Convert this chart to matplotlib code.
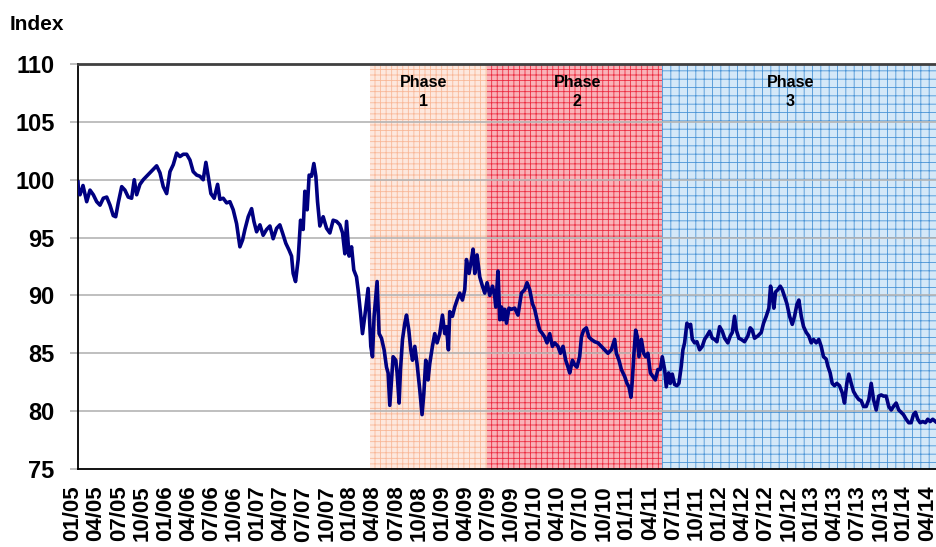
import matplotlib
matplotlib.use("Agg")
import matplotlib.pyplot as plt
from matplotlib.transforms import ScaledTranslation

# months elapsed since 01/2005 and index level
months = [0.0, 0.06, 0.26, 0.65, 1.13, 1.56, 1.99, 2.43, 2.86, 3.29, 3.73, 4.16, 4.58, 4.90, 5.23, 5.68,
          6.10, 6.53, 6.97, 7.31, 7.62, 8.05, 8.48, 8.92, 9.35, 9.78, 10.22, 10.65, 11.08, 11.52, 11.95,
          12.38, 12.82, 13.25, 13.68, 14.12, 14.55, 14.97, 15.42, 15.84, 16.27, 16.62, 16.92, 17.27, 17.70,
          18.14, 18.44, 18.87, 19.31, 19.74, 20.17, 20.61, 21.04, 21.39, 21.69, 22.12, 22.56, 22.86, 23.21,
          23.64, 24.06, 24.51, 24.94, 25.36, 25.81, 26.23, 26.58, 27.01, 27.44, 27.75, 27.96, 28.27, 28.61,
          28.92, 29.26, 29.48, 29.78, 30.04, 30.35, 30.65, 30.91, 31.13, 31.43, 31.86, 32.30, 32.73, 33.16,
          33.60, 34.03, 34.38, 34.68, 34.90, 35.23, 35.55, 35.84, 36.19, 36.40, 36.71, 36.97, 37.27, 37.70,
          38.05, 38.27, 38.48, 38.87, 39.13, 39.44, 39.78, 40.09, 40.30, 40.52, 40.74, 40.95, 41.30, 41.47,
          41.73, 41.91, 42.17, 42.47, 42.69, 42.99, 43.25, 43.47, 43.77, 44.06, 44.42, 44.71, 44.94, 45.19,
          45.49, 45.71, 46.06, 46.36, 46.66, 47.01, 47.36, 47.66, 47.88, 48.14, 48.31, 48.66, 48.96, 49.26,
          49.61, 49.96, 50.26, 50.48, 50.82, 51.13, 51.34, 51.56, 51.86, 52.21, 52.56, 52.86, 53.16, 53.51,
          53.86, 54.16, 54.29, 54.58, 54.81, 55.03, 55.23, 55.45, 55.68, 56.01, 56.32, 56.75, 57.18, 57.62,
          58.05, 58.35, 58.70, 59.05, 59.35, 59.65, 60.00, 60.35, 60.65, 60.95, 61.30, 61.65, 61.95, 62.38,
          62.69, 63.03, 63.38, 63.68, 63.90, 64.25, 64.55, 64.84, 65.19, 65.42, 65.71, 66.06, 66.40, 66.71,
          67.14, 67.57, 68.01, 68.44, 68.87, 69.31, 69.74, 69.96, 70.30, 70.61, 71.04, 71.34, 71.60, 71.86,
          72.04, 72.25, 72.47, 72.69, 72.90, 73.21, 73.51, 73.77, 74.06, 74.38, 74.71, 75.03, 75.36, 75.67,
          75.93, 76.23, 76.45, 76.75, 76.97, 77.23, 77.53, 77.83, 78.09, 78.40, 78.61, 78.83, 79.13, 79.39,
          79.61, 79.83, 80.13, 80.43, 80.78, 81.13, 81.43, 81.73, 82.08, 82.43, 82.73, 83.03, 83.38, 83.73,
          84.03, 84.45, 84.77, 85.03, 85.32, 85.55, 85.88, 86.19, 86.62, 87.05, 87.36, 87.62, 87.92, 88.35,
          88.79, 89.09, 89.44, 89.78, 90.00, 90.22, 90.43, 90.65, 90.95, 91.26, 91.52, 91.82, 92.12, 92.47,
          92.82, 93.12, 93.42, 93.68, 93.99, 94.29, 94.64, 94.97, 95.29, 95.58, 95.93, 96.27, 96.58, 96.88,
          97.23, 97.44, 97.75, 98.01, 98.31, 98.61, 98.96, 99.31, 99.61, 99.91, 100.17, 100.48, 100.78,
          101.13, 101.47, 101.78, 102.08, 102.43, 102.77, 103.08, 103.38, 103.73, 104.06, 104.38, 104.68,
          105.03, 105.36, 105.68, 105.97, 106.32, 106.66, 106.97, 107.27, 107.62, 107.96, 108.27, 108.57,
          108.83, 109.13, 109.44, 109.78, 110.13, 110.43, 110.74, 111.08, 111.43]

index_vals = [99.8, 99.0, 98.7, 99.5, 98.1, 99.1, 98.7, 98.1, 97.8, 98.4, 98.5, 97.8, 96.9, 96.8, 98.0, 99.4,
              99.1, 98.5, 98.4, 100.0, 98.7, 99.6, 100.0, 100.3, 100.6, 100.9, 101.2, 100.6, 99.4, 98.8, 100.7,
              101.3, 102.3, 102.0, 102.2, 102.2, 101.7, 100.7, 100.4, 100.3, 100.0, 101.5, 100.3, 98.8, 98.4,
              99.6, 98.3, 98.4, 98.0, 98.1, 97.4, 96.2, 94.2, 94.8, 95.7, 96.8, 97.5, 96.4, 95.5,
              96.1, 95.2, 95.7, 96.0, 94.9, 95.8, 96.1, 95.4, 94.5, 93.9, 93.4, 91.9, 91.2, 93.1,
              96.5, 95.7, 99.0, 97.4, 100.4, 100.3, 101.4, 100.3, 98.1, 96.0, 96.8, 95.8, 95.4, 96.5,
              96.4, 96.1, 95.4, 93.6, 96.4, 93.4, 94.2, 92.2, 91.6, 90.5, 88.5, 86.7, 88.2, 90.6,
              85.6, 84.7, 88.2, 91.2, 86.7, 86.3, 85.3, 83.8, 83.3, 80.5, 82.7, 84.7, 84.4, 83.3,
              80.7, 83.6, 86.2, 87.6, 88.3, 87.0, 85.3, 84.4, 85.6, 84.1, 81.8, 79.7, 81.5, 84.4,
              82.7, 84.1, 85.6, 86.7, 85.9, 86.7, 88.3, 86.7, 87.3, 85.3, 88.6, 88.2, 89.0, 89.6,
              90.2, 89.6, 90.5, 93.1, 91.9, 93.1, 94.0, 91.9, 93.5, 91.6, 90.8, 90.2, 91.1, 90.0,
              90.8, 89.9, 89.0, 92.1, 87.9, 89.0, 87.9, 88.8, 87.6, 88.9, 88.8, 88.9, 88.3, 90.2,
              90.5, 91.1, 90.5, 89.3, 88.8, 87.9, 87.0, 86.7, 86.4, 85.9, 86.7, 85.6, 85.9, 85.6,
              85.0, 85.6, 84.4, 83.8, 83.3, 84.4, 84.0, 83.8, 84.7, 86.4, 87.0, 87.2, 86.4, 86.2,
              86.0, 85.9, 85.6, 85.3, 85.0, 85.3, 86.2, 85.0, 84.4, 83.6, 83.0, 82.4, 82.1, 81.2,
              82.7, 85.0, 87.0, 86.4, 84.7, 86.2, 85.0, 84.7, 85.0, 83.3, 83.0, 82.7, 83.6, 83.6,
              84.7, 83.6, 82.1, 83.3, 82.4, 83.2, 82.3, 82.2, 82.4, 83.9, 85.3, 85.9, 87.6, 87.3,
              87.5, 86.2, 85.9, 86.0, 85.3, 85.6, 86.2, 86.5, 86.9, 86.3, 86.2, 86.0, 87.3, 86.9,
              86.3, 85.9, 86.5, 86.8, 88.2, 87.0, 86.3, 86.2, 86.0, 86.5, 87.2, 87.0, 86.3, 86.5,
              86.8, 87.6, 88.2, 88.9, 90.8, 89.9, 88.9, 90.3, 90.5, 90.8, 90.5, 89.9, 89.3, 88.2,
              87.5, 88.2, 89.2, 89.6, 88.2, 87.3, 86.8, 86.5, 85.9, 86.2, 85.9, 86.2, 85.6, 84.7,
              84.5, 83.9, 83.3, 82.4, 82.2, 82.4, 82.2, 81.6, 80.7, 82.4, 83.2, 82.4, 81.7,
              81.3, 81.0, 80.9, 80.4, 80.4, 81.0, 82.4, 81.0, 80.1, 81.3, 81.4, 81.3,
              81.3, 80.4, 80.1, 80.4, 80.7, 80.1, 79.9, 79.7, 79.3, 79.0, 79.0, 79.7,
              79.9, 79.3, 79.0, 79.1, 79.0, 79.3, 79.1, 79.3, 79.1]

tick_labels = ["01/05", "04/05", "07/05", "10/05", "01/06", "04/06", "07/06", "10/06",
               "01/07", "04/07", "07/07", "10/07", "01/08", "04/08", "07/08", "10/08",
               "01/09", "04/09", "07/09", "10/09", "01/10", "04/10", "07/10", "10/10",
               "01/11", "04/11", "07/11", "10/11", "01/12", "04/12", "07/12", "10/12",
               "01/13", "04/13", "07/13", "10/13", "01/14", "04/14"]
# quarters that carry a visible tick mark
marked_quarters = [0, 3, 4, 8, 10, 12, 13, 14, 17, 18, 19, 21, 22, 23, 25, 27, 28, 29, 30, 33, 34, 35]

phase_names = ["Phase\n1", "Phase\n2", "Phase\n3"]
phase_start = [37.9, 53.2, 75.9]
phase_end = [53.2, 75.9, 111.5]
phase_base = ["#fde8de", "#f9b2b8", "#d4e8f8"]
phase_hatch = ["#f9b898", "#ec2c40", "#4a94d6"]
phase_pattern = ["+++", "+++", "++"]
phase_text_x = [44.9, 64.9, 92.6]

plt.rcParams["font.family"] = ["Liberation Sans", "DejaVu Sans"]
plt.rcParams["hatch.linewidth"] = 0.6

fig = plt.figure(figsize=(9.36, 5.47), dpi=100)
ax = fig.add_axes([78/936, 1-469/547, 858/936, 405/547])

for i in range(len(phase_names)):
    ax.axvspan(phase_start[i], phase_end[i], facecolor=phase_base[i], edgecolor="none", zorder=0)
    ax.axvspan(phase_start[i], phase_end[i], facecolor="none", edgecolor=phase_hatch[i],
               hatch=phase_pattern[i], linewidth=0, zorder=0.5)
    ax.text(phase_text_x[i], 107.6, phase_names[i], ha="center", va="center",
            fontsize=11.5, fontweight="bold", linespacing=1.3, zorder=4)

for yv in [80, 85, 90, 95, 100, 105]:
    ax.axhline(yv, color="#b4b4b4", linewidth=1.2, zorder=1)

ax.plot(months, index_vals, color="#000080", linewidth=2.6, zorder=3)

ax.set_xlim(0, 111.5)
ax.set_ylim(75, 110)
ax.set_yticks([75, 80, 85, 90, 95, 100, 105, 110])
ax.tick_params(axis="y", length=6, width=1.2, color="#b4b4b4", pad=11, labelsize=17)
for lab in ax.get_yticklabels():
    lab.set_fontweight("bold")

ax.set_xticks([3*k for k in range(len(tick_labels))])
ax.set_xticklabels(tick_labels, rotation=90, fontsize=16, fontweight="bold", va="top")
ax.tick_params(axis="x", which="major", length=0, pad=12)
shift = ScaledTranslation(-5/100, 0, fig.dpi_scale_trans)
for lab in ax.get_xticklabels():
    lab.set_transform(lab.get_transform() + shift)
ax.set_xticks([3*k for k in marked_quarters], minor=True)
ax.tick_params(axis="x", which="minor", length=6, width=1, color="#909090")

ax.spines["right"].set_visible(False)
ax.spines["top"].set_color("#404040")
ax.spines["top"].set_linewidth(2)
ax.spines["left"].set_color("black")
ax.spines["left"].set_linewidth(1.3)
ax.spines["bottom"].set_color("black")
ax.spines["bottom"].set_linewidth(1.3)

fig.text(10/936, 1-25/547, "Index", fontsize=15, fontweight="bold", ha="left", va="center")

fig.savefig("out.png", dpi=100)
